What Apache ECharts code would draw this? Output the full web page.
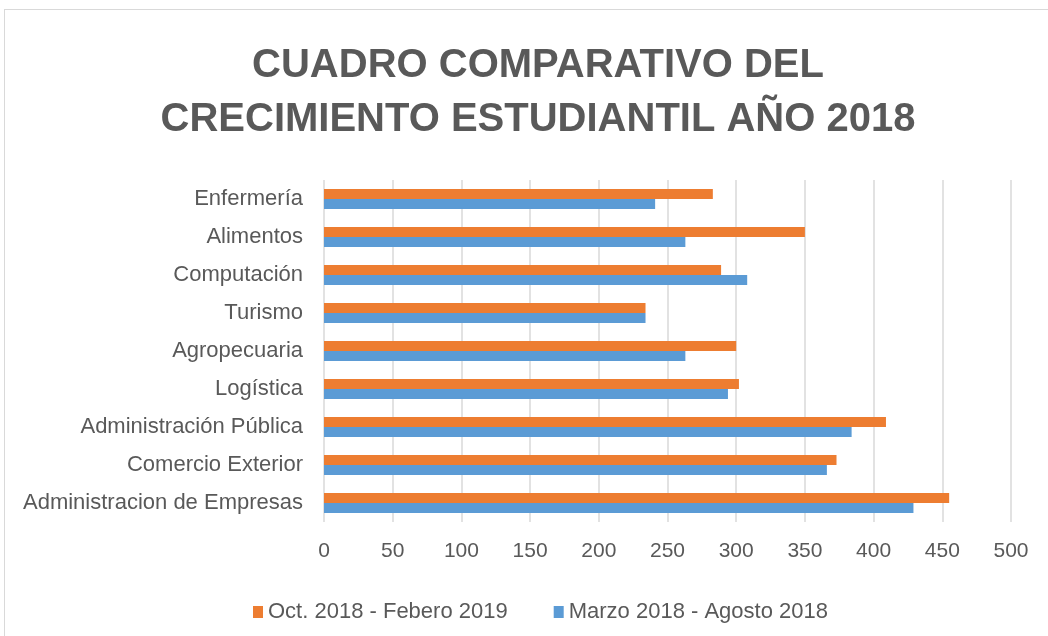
<!DOCTYPE html>
<html>
<head>
<meta charset="utf-8">
<script src="https://cdn.jsdelivr.net/npm/echarts@6/dist/echarts.min.js"></script>
<style>
  body { margin: 0; background: #fff; }
  #frame { position: absolute; left: 4px; top: 9px; width: 1100px; height: 700px; border: 1px solid #d9d9d9; }
  #main { position: absolute; left: 0; top: 0; width: 1048px; height: 636px; }
</style>
</head>
<body>
<div id="frame"></div>
<div id="main"></div>
<script>
// categorias de abajo hacia arriba (igual que en Excel)
const carreras = [
  "Administracion de Empresas",
  "Comercio Exterior",
  "Administración Pública",
  "Logística",
  "Agropecuaria",
  "Turismo",
  "Computación",
  "Alimentos",
  "Enfermería"
];
const marzoAgosto2018 = [429, 366, 384, 294, 263, 234, 308, 263, 241];
const octFebrero2019 = [455, 373, 409, 302, 300, 234, 289, 350, 283];
const xTicks = { min: 0, max: 500, interval: 50 };

const textColor = "#595959";
const font = "'Liberation Sans', Arial, sans-serif";

let chart = echarts.init(document.getElementById("main"));
chart.setOption({
  animation: false,
  title: {
    text: "CUADRO COMPARATIVO DEL\nCRECIMIENTO ESTUDIANTIL AÑO 2018",
    left: 533,
    top: 34,
    textAlign: "center",
    textStyle: {
      fontFamily: font,
      fontSize: 40,
      fontWeight: "bold",
      color: textColor,
      lineHeight: 54
    }
  },
  legend: {
    left: 248,
    top: 596,
    itemWidth: 10,
    itemHeight: 12,
    itemGap: 46,
    icon: "rect",
    textStyle: { fontFamily: font, fontSize: 22, color: textColor },
    data: ["Oct. 2018 - Febero 2019", "Marzo 2018 - Agosto 2018"]
  },
  grid: { left: 324, right: 37, top: 180, bottom: 114 },
  xAxis: {
    type: "value",
    min: xTicks.min,
    max: xTicks.max,
    interval: xTicks.interval,
    axisLine: { show: false },
    axisTick: { show: false },
    axisLabel: { margin: 19, fontFamily: font, fontSize: 21, color: textColor },
    splitLine: { lineStyle: { color: "#d9d9d9", width: 1.5 } }
  },
  yAxis: {
    type: "category",
    data: carreras,
    axisLine: { show: false },
    axisTick: { show: false },
    axisLabel: { margin: 21, fontFamily: font, fontSize: 22, color: textColor }
  },
  series: [
    {
      name: "Oct. 2018 - Febero 2019",
      type: "bar",
      barWidth: 10,
      barGap: "0%",
      itemStyle: { color: "#ed7d31" },
      data: octFebrero2019
    },
    {
      name: "Marzo 2018 - Agosto 2018",
      type: "bar",
      barWidth: 10,
      barGap: "0%",
      itemStyle: { color: "#5b9bd5" },
      data: marzoAgosto2018
    }
  ]
});
</script>
</body>
</html>
